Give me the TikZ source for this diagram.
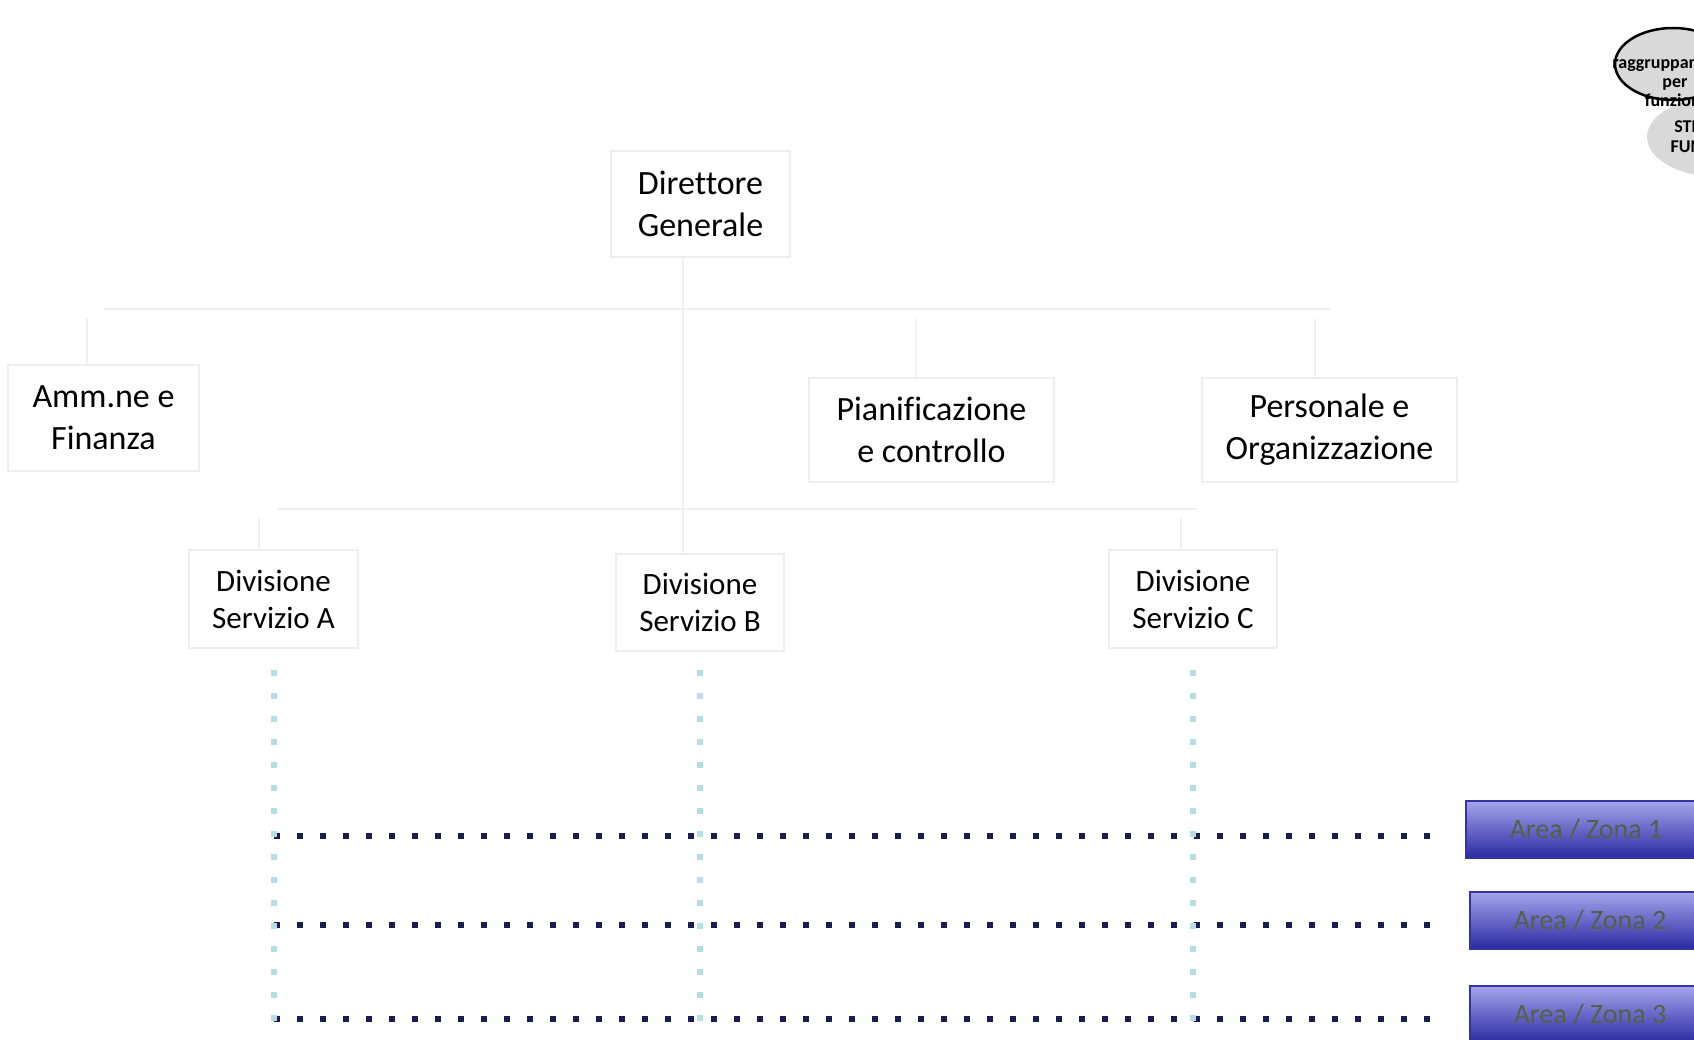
\documentclass[tikz,border=0pt]{standalone}
\usepackage{fontspec}
\setmainfont{Carlito}[Ligatures=NoCommon]
\usetikzlibrary{shapes.geometric}

\definecolor{boxline}{RGB}{238,238,238}
\definecolor{busline}{RGB}{240,240,240}
\definecolor{aqua}{RGB}{182,221,226}
\definecolor{navy}{RGB}{28,28,80}
\definecolor{areatop}{RGB}{164,164,236}
\definecolor{areabot}{RGB}{42,42,162}
\definecolor{areaedge}{RGB}{52,52,160}
\definecolor{areatext}{RGB}{86,96,72}
\definecolor{bubble}{RGB}{217,217,217}

\tikzset{
  orgbox/.style={draw=boxline, line width=2.5pt, fill=white, align=center,
    inner sep=0pt, text=black},
  bigtext/.style={font=\fontsize{34}{42}\selectfont},
  divtext/.style={font=\fontsize{31}{37}\selectfont},
  bus/.style={draw=busline, line width=2.5pt},
  vdots/.style={draw=aqua, line width=6pt, line cap=butt, dash pattern=on 6pt off 17pt},
  hdots/.style={draw=navy, line width=6pt, line cap=butt, dash pattern=on 6pt off 17pt},
  areabox/.style={draw=areaedge, line width=2pt, top color=areatop, bottom color=areabot,
    minimum width=240pt, minimum height=57pt, inner sep=0pt, anchor=west,
    text=areatext, font=\fontsize{28}{32}\selectfont},
  bubbletext/.style={font=\bfseries\fontsize{18}{19}\selectfont, align=center, text=black}
}

\begin{document}
\begin{tikzpicture}[x=1pt, y=-1pt]
  \useasboundingbox (0,0) rectangle (1694,1039);

  % --- organisation chart boxes
  \node[orgbox,bigtext,minimum width=179pt,minimum height=106pt] (dg) at (700.5,204) {Direttore\\Generale};
  \node[orgbox,bigtext,minimum width=191pt,minimum height=106pt] (amm) at (103.5,418) {Amm.ne e\\Finanza};
  \node[orgbox,bigtext,minimum width=245pt,minimum height=104pt] (pian) at (931.5,430) {Pianificazione\\e controllo};
  \node[orgbox,bigtext,minimum width=255pt,minimum height=104pt] (pers) at (1329.5,430) {Personale e\\Organizzazione};
  \node[orgbox,divtext,minimum width=169pt,minimum height=98pt] (diva) at (273.5,599) {Divisione\\Servizio A};
  \node[orgbox,divtext,minimum width=168pt,minimum height=97pt] (divb) at (700,602.5) {Divisione\\Servizio B};
  \node[orgbox,divtext,minimum width=168pt,minimum height=98pt] (divc) at (1193,599) {Divisione\\Servizio C};

  % --- staff bus and line bus
  \coordinate (bus1w) at (104,309);
  \coordinate (bus1e) at (1331,309);
  \coordinate (bus2w) at (277,509);
  \coordinate (bus2e) at (1197,509);
  \draw[bus] (bus1w) -- (bus1e);
  \draw[bus] (bus2w) -- (bus2e);
  \draw[bus] ([xshift=-17.5pt]dg.south) -- ([xshift=-17pt]divb.north);
  \draw[bus] ([xshift=-16.5pt]amm.north) -- ++(0,-46);
  \draw[bus] ([xshift=-15.5pt]pian.north) -- ++(0,-58);
  \draw[bus] ([xshift=-14.5pt]pers.north) -- ++(0,-58);
  \draw[bus] ([xshift=-14.5pt]diva.north) -- ++(0,-31);
  \draw[bus] ([xshift=-12pt]divc.north) -- ++(0,-31);

  % --- geographic areas
  \node[areabox] (area1) at (1465,829.5) {Area / Zona 1};
  \node[areabox] (area2) at (1469,920.5) {Area / Zona 2};
  \node[areabox] (area3) at (1469,1014.5) {Area / Zona 3};

  \coordinate (row1) at (274,836);
  \coordinate (row2) at (274,925);
  \coordinate (row3) at (274,1019);
  \draw[hdots, shorten >=33pt] (row1) -- (row1 -| area1.west);
  \draw[hdots, shorten >=37pt] (row2) -- (row2 -| area2.west);
  \draw[hdots, shorten >=37pt] (row3) -- (row3 -| area3.west);

  % --- divisions reaching down into the areas
  \draw[vdots] ([yshift=-21pt]diva.south) -- ++(0,352);
  \draw[vdots] ([yshift=-18pt]divb.south) -- ++(0,352);
  \draw[vdots] ([yshift=-21pt]divc.south) -- ++(0,352);

  % --- legend bubbles
  \node[ellipse, fill=bubble, minimum width=144pt, minimum height=80pt, inner sep=0pt] (struct) at (1719,137) {};
  \node[bubbletext, font=\bfseries\fontsize{18}{20}\selectfont] (structtext) at (struct.center) {STRUTTURA\\FUNZIONALE};
  \node[ellipse, fill=bubble, draw=black, line width=2.5pt, minimum width=116pt, minimum height=72pt, inner sep=0pt] (group) at (1673,64) {};
  \node[bubbletext] (grouptext) at (1675,82) {raggruppamento\\per\\funzioni};
\end{tikzpicture}
\end{document}
